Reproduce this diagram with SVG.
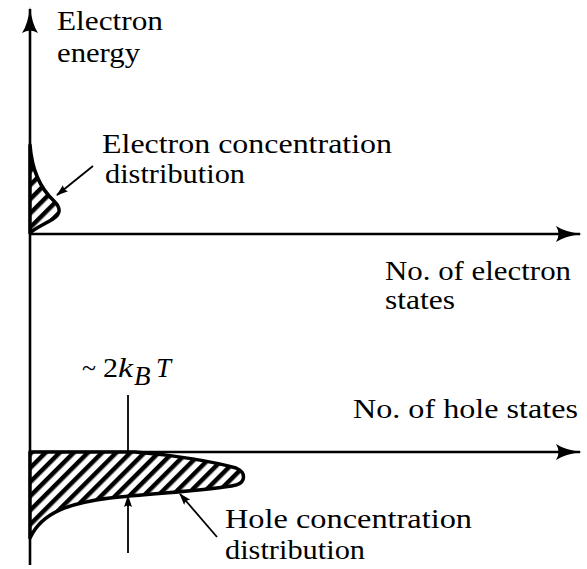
<svg xmlns="http://www.w3.org/2000/svg" width="587" height="569" viewBox="0 0 587 569">
<style>
text{font-family:"Liberation Serif","Times New Roman",serif;font-size:27px;fill:#000}
.ax{stroke:#000;stroke-width:2.6;fill:none}
.thin{stroke:#000;stroke-width:1.8;fill:none}
.dist{stroke:#000;stroke-width:3.5;fill:url(#hatch);stroke-linejoin:round}
</style>
<defs>
<pattern id="hatch" width="10" height="10" patternUnits="userSpaceOnUse" patternTransform="rotate(45)">
<rect width="10" height="10" fill="#fff"/>
<rect x="0" y="0" width="4.5" height="10" fill="#000"/>
</pattern>
<marker id="bigArrow" viewBox="0 0 26 16" refX="24" refY="8" markerWidth="26" markerHeight="16" markerUnits="userSpaceOnUse" orient="auto">
<path d="M0,0 Q9,6 26,8 Q9,10 0,16 Q5,8 0,0Z" fill="#000"/>
</marker>
<marker id="smallArrow" viewBox="0 0 12 8" refX="11" refY="4" markerWidth="12" markerHeight="8" markerUnits="userSpaceOnUse" orient="auto">
<path d="M0,0 L12,4 L0,8 Q3,4 0,0Z" fill="#000"/>
</marker>
</defs>

<g id="axes">
<line class="ax" x1="30" y1="565" x2="30" y2="9" marker-end="url(#bigArrow)"/>
<line class="ax" x1="30" y1="234" x2="580" y2="234" marker-end="url(#bigArrow)"/>
<line class="ax" x1="30" y1="452" x2="580" y2="452" marker-end="url(#bigArrow)"/>
</g>

<g id="electron-distribution">
<path class="dist" d="M30,145 C32,172 42,190 54,201 C61,208 61,214 53,219 C43,225 34,229 30,233 Z"/>
</g>

<g id="hole-distribution">
<path class="dist" d="M30,452 L135,452 C175,455 215,462 236,468 C246,472 246,482 236,485 C210,491 150,493 110,498 C70,503 42,512 30,538 Z"/>
</g>

<g id="connectors">
<line class="thin" x1="93" y1="166" x2="57" y2="195" marker-end="url(#smallArrow)"/>
<line class="thin" x1="128" y1="395" x2="128" y2="452"/>
<line class="thin" x1="128" y1="553" x2="128" y2="496" marker-end="url(#smallArrow)"/>
<line class="thin" x1="217" y1="537" x2="180" y2="494" marker-end="url(#smallArrow)"/>
</g>

<g id="labels">
<text x="57" y="30" textLength="106" lengthAdjust="spacingAndGlyphs">Electron</text>
<text x="57" y="62" textLength="83" lengthAdjust="spacingAndGlyphs">energy</text>
<text x="102" y="153" textLength="290" lengthAdjust="spacingAndGlyphs">Electron concentration</text>
<text x="105" y="183" textLength="140" lengthAdjust="spacingAndGlyphs">distribution</text>
<text x="385" y="280" textLength="186" lengthAdjust="spacingAndGlyphs">No. of electron</text>
<text x="385" y="309" textLength="70" lengthAdjust="spacingAndGlyphs">states</text>
<text x="353" y="418" textLength="225" lengthAdjust="spacingAndGlyphs">No. of hole states</text>
<text x="225" y="528" textLength="247" lengthAdjust="spacingAndGlyphs">Hole concentration</text>
<text x="225" y="559" textLength="140" lengthAdjust="spacingAndGlyphs">distribution</text>
<text x="82" y="377" textLength="14" lengthAdjust="spacingAndGlyphs">~</text>
<text x="103" y="377" textLength="15" lengthAdjust="spacingAndGlyphs">2</text>
<text x="118" y="377" font-style="italic" textLength="15" lengthAdjust="spacingAndGlyphs">k</text>
<text x="134" y="385" font-style="italic" font-size="21">B</text>
<text x="156" y="377" font-style="italic">T</text>
</g>
</svg>
